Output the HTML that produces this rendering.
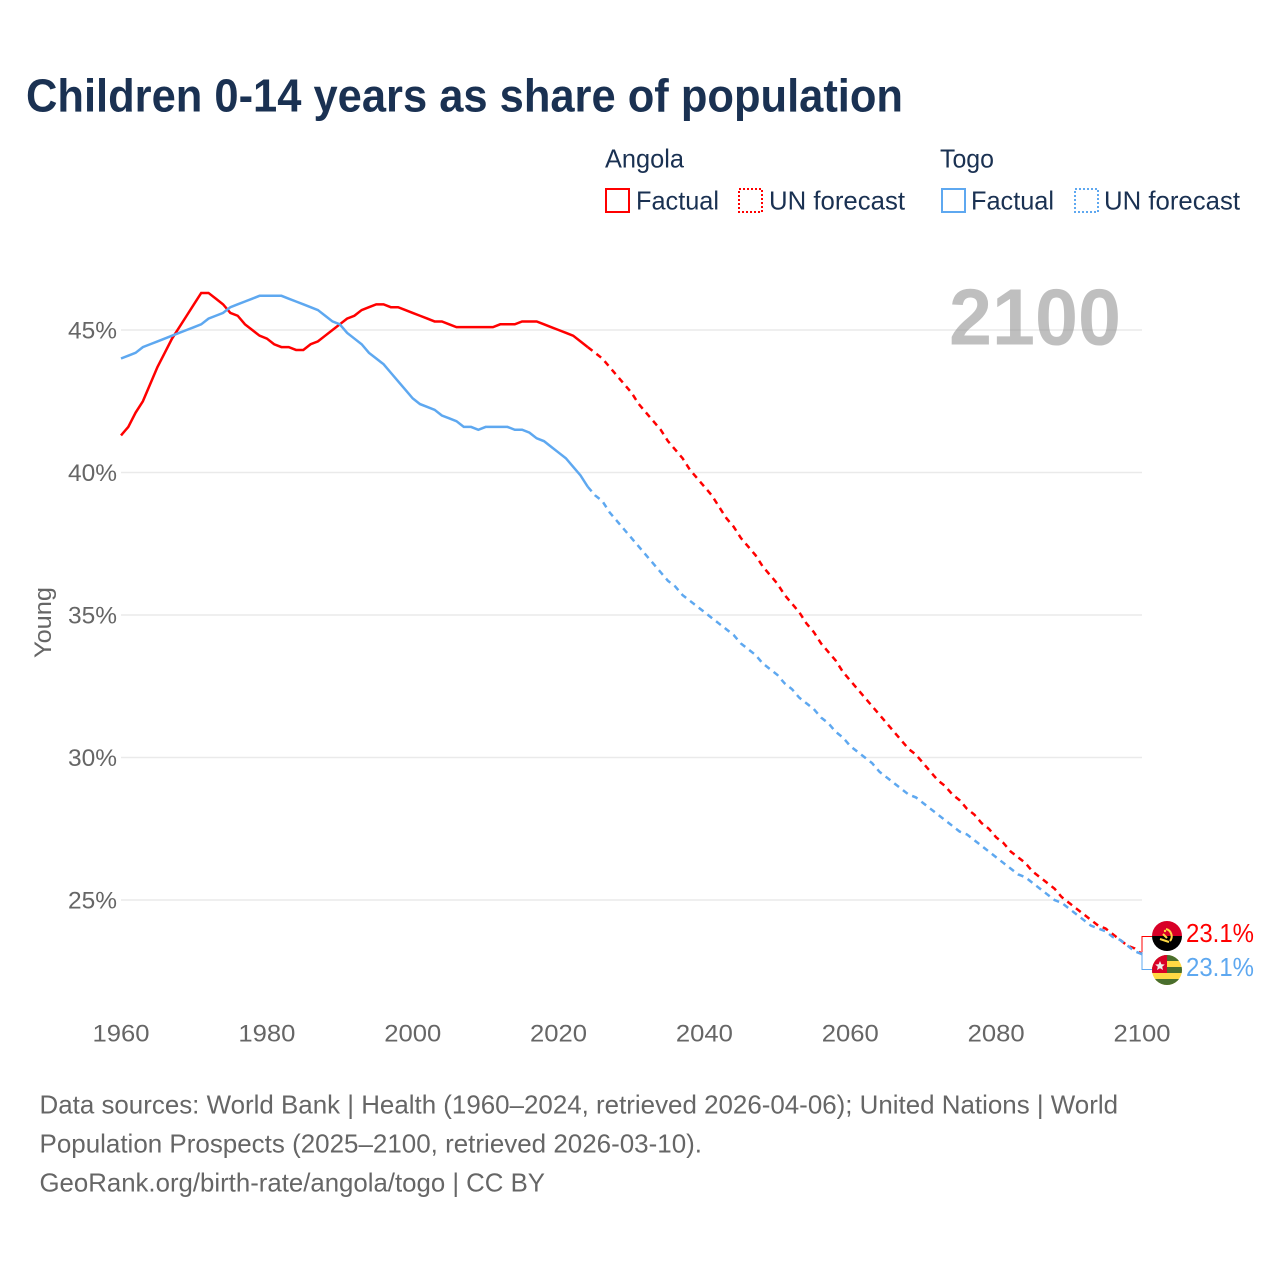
<!DOCTYPE html>
<html lang="en">
<head>
<meta charset="utf-8">
<title>Children 0-14 years as share of population</title>
<style>
html,body{margin:0;padding:0;background:#fff;width:1280px;height:1280px;overflow:hidden}
svg{display:block}
text{font-family:"Liberation Sans",sans-serif}
</style>
</head>
<body>
<svg id="chart" width="1280" height="1280" viewBox="0 0 1280 1280" xmlns="http://www.w3.org/2000/svg">
  <defs>
    <clipPath id="flag-clip-a"><circle cx="1167" cy="936" r="15"/></clipPath>
    <clipPath id="flag-clip-t"><circle cx="1167" cy="970" r="15"/></clipPath>
  </defs>

  <text x="26" y="111.500" font-size="46" font-weight="700" fill="#1a3152" textLength="877" lengthAdjust="spacingAndGlyphs">Children 0-14 years as share of population</text>

  <g fill="#1a3152" font-size="26">
    <text x="605" y="167.500" textLength="79" lengthAdjust="spacingAndGlyphs">Angola</text>
    <text x="940" y="167.500" textLength="54" lengthAdjust="spacingAndGlyphs">Togo</text>
    <rect x="606" y="189" width="23" height="23" fill="none" stroke="#ff0000" stroke-width="2"/>
    <text x="636" y="209.500" textLength="83" lengthAdjust="spacingAndGlyphs">Factual</text>
    <rect x="739" y="189" width="23" height="23" fill="none" stroke="#ff0000" stroke-width="2" stroke-dasharray="2 2"/>
    <text x="769" y="209.500" textLength="136" lengthAdjust="spacingAndGlyphs">UN forecast</text>
    <rect x="942" y="189" width="23" height="23" fill="none" stroke="#5ea8f0" stroke-width="2"/>
    <text x="971" y="209.500" textLength="83" lengthAdjust="spacingAndGlyphs">Factual</text>
    <rect x="1075" y="189" width="23" height="23" fill="none" stroke="#5ea8f0" stroke-width="2" stroke-dasharray="2 2"/>
    <text x="1104" y="209.500" textLength="136" lengthAdjust="spacingAndGlyphs">UN forecast</text>
  </g>

  <g id="grid"></g>
  <g id="y-ticks"></g>
  <g id="x-ticks"></g>

  <text transform="translate(51,622.5) rotate(-90)" text-anchor="middle" font-size="24" fill="#666" textLength="71" lengthAdjust="spacingAndGlyphs">Young</text>

  <text x="949" y="344.500" font-size="80" font-weight="700" fill="#808080" fill-opacity="0.5" textLength="172" lengthAdjust="spacingAndGlyphs">2100</text>

  <g id="series"></g>

  <path d="M1142 952V936.500H1152" fill="none" stroke="#ff0000" stroke-width="1"/>
  <path d="M1142 952V969.500H1152" fill="none" stroke="#5ea8f0" stroke-width="1"/>

  <g clip-path="url(#flag-clip-a)">
    <rect x="1152" y="921" width="30" height="15" fill="#d80027"/>
    <rect x="1152" y="936" width="30" height="15" fill="#000"/>
    <path d="M1166 929a7.500 7.500 0 0 1 4 12" fill="none" stroke="#ffda44" stroke-width="2"/>
    <path d="M1160 939l9 3" fill="none" stroke="#ffda44" stroke-width="2"/>
    <path d="M1163 934l4 4" fill="none" stroke="#ffda44" stroke-width="2"/>
    <circle cx="1165" cy="931" r="1.200" fill="#ffda44"/>
  </g>
  <g clip-path="url(#flag-clip-t)">
    <rect x="1152" y="955" width="30" height="30" fill="#ffda44"/>
    <rect x="1152" y="955" width="30" height="6" fill="#496e2d"/>
    <rect x="1152" y="967" width="30" height="6" fill="#496e2d"/>
    <rect x="1152" y="979" width="30" height="6" fill="#496e2d"/>
    <rect x="1152" y="955" width="15" height="18" fill="#d80027"/>
    <path d="M1160 961l1.400 3.200 3.400.3-2.600 2.200.8 3.300-3-1.800-3 1.800.8-3.300-2.600-2.200 3.400-.3z" fill="#eee"/>
  </g>

  <text x="1186" y="942" font-size="26" fill="#ff0000" textLength="68" lengthAdjust="spacingAndGlyphs">23.1%</text>
  <text x="1186" y="976" font-size="26" fill="#5ea8f0" textLength="68" lengthAdjust="spacingAndGlyphs">23.1%</text>

  <g font-size="26" fill="#666">
    <text x="39.500" y="1113.500" textLength="1078.500" lengthAdjust="spacingAndGlyphs">Data sources: World Bank | Health (1960–2024, retrieved 2026-04-06); United Nations | World</text>
    <text x="39.500" y="1152.500" textLength="662.500" lengthAdjust="spacingAndGlyphs">Population Prospects (2025–2100, retrieved 2026-03-10).</text>
    <text x="39.500" y="1191.500" textLength="505.500" lengthAdjust="spacingAndGlyphs">GeoRank.org/birth-rate/angola/togo | CC BY</text>
  </g>
</svg>

<script>
const factualStartYear = 1960;
const forecastStartYear = 2024;
const yTickValues = [45, 40, 35, 30, 25];
const xTickYears = [1960, 1980, 2000, 2020, 2040, 2060, 2080, 2100];
const angolaFactual = [41.3,41.6,42.1,42.5,43.1,43.7,44.2,44.7,45.1,45.5,45.9,46.3,46.3,46.1,45.9,45.6,45.5,45.2,45.0,44.8,44.7,44.5,44.4,44.4,44.3,44.3,44.5,44.6,44.8,45.0,45.2,45.4,45.5,45.7,45.8,45.9,45.9,45.8,45.8,45.7,45.6,45.5,45.4,45.3,45.3,45.2,45.1,45.1,45.1,45.1,45.1,45.1,45.2,45.2,45.2,45.3,45.3,45.3,45.2,45.1,45.0,44.9,44.8,44.6,44.4];
const togoFactual = [44.0,44.1,44.2,44.4,44.5,44.6,44.7,44.8,44.9,45.0,45.1,45.2,45.4,45.5,45.6,45.8,45.9,46.0,46.1,46.2,46.2,46.2,46.2,46.1,46.0,45.9,45.8,45.7,45.5,45.3,45.2,44.9,44.7,44.5,44.2,44.0,43.8,43.5,43.2,42.9,42.6,42.4,42.3,42.2,42.0,41.9,41.8,41.6,41.6,41.5,41.6,41.6,41.6,41.6,41.5,41.5,41.4,41.2,41.1,40.9,40.7,40.5,40.2,39.9,39.5];
const angolaForecast = [44.4,44.2,44.0,43.7,43.4,43.1,42.8,42.4,42.1,41.8,41.5,41.1,40.8,40.5,40.1,39.8,39.5,39.2,38.8,38.4,38.1,37.7,37.4,37.1,36.7,36.4,36.1,35.7,35.4,35.1,34.7,34.4,34.0,33.7,33.4,33.0,32.7,32.4,32.1,31.8,31.5,31.2,30.9,30.6,30.3,30.1,29.8,29.5,29.2,29.0,28.7,28.5,28.2,28.0,27.7,27.5,27.2,27.0,26.7,26.5,26.3,26.0,25.8,25.6,25.4,25.1,24.9,24.7,24.5,24.3,24.1,24.0,23.8,23.6,23.4,23.3,23.1];
const togoForecast = [39.5,39.2,39.0,38.6,38.3,38.0,37.7,37.4,37.1,36.8,36.5,36.2,36.0,35.7,35.5,35.3,35.1,34.9,34.7,34.5,34.3,34.0,33.8,33.6,33.3,33.1,32.9,32.6,32.4,32.1,31.9,31.7,31.4,31.2,30.9,30.7,30.4,30.2,30.0,29.8,29.5,29.3,29.1,28.9,28.7,28.6,28.4,28.2,28.0,27.8,27.6,27.4,27.3,27.1,26.9,26.7,26.5,26.3,26.1,25.9,25.8,25.6,25.4,25.2,25.0,24.9,24.7,24.5,24.3,24.1,24.0,23.9,23.7,23.6,23.4,23.2,23.1];

const NS = 'http://www.w3.org/2000/svg';
function xScale(year) { return 121 + (year - 1960) * (1021 / 140); }
function yScale(value) { return 330 + (45 - value) * 28.5; }
function linePath(values, startYear) {
  return values.map(function (v, i) {
    return (i ? 'L' : 'M') + xScale(startYear + i).toFixed(2) + ' ' + yScale(v).toFixed(2);
  }).join('');
}

const gridGroup = document.getElementById('grid');
const yGroup = document.getElementById('y-ticks');
yTickValues.forEach(function (v) {
  const line = document.createElementNS(NS, 'line');
  
  
  line.setAttribute('x1', 121);
  line.setAttribute('x2', 1142);
  line.setAttribute('y1', yScale(v));
  line.setAttribute('y2', yScale(v));
  line.setAttribute('stroke', '#eaeaea');
  line.setAttribute('stroke-width', '1.5');
  gridGroup.appendChild(line);

  const label = document.createElementNS(NS, 'text');
  
  
  label.setAttribute('x', 68);
  label.setAttribute('y', yScale(v) + 8.5);
  label.setAttribute('font-size', '24');
  label.setAttribute('fill', '#666');
  label.setAttribute('textLength', '49');
  label.setAttribute('lengthAdjust', 'spacingAndGlyphs');
  label.textContent = v + '%';
  yGroup.appendChild(label);
});

const xGroup = document.getElementById('x-ticks');
xTickYears.forEach(function (year) {
  const label = document.createElementNS(NS, 'text');
  
  
  label.setAttribute('x', xScale(year) - 28.5);
  label.setAttribute('y', 1041.5);
  label.setAttribute('font-size', '24');
  label.setAttribute('fill', '#666');
  label.setAttribute('textLength', '57');
  label.setAttribute('lengthAdjust', 'spacingAndGlyphs');
  label.textContent = String(year);
  xGroup.appendChild(label);
});

const seriesGroup = document.getElementById('series');

const angolaFactualLine = document.createElementNS(NS, 'path');


angolaFactualLine.setAttribute('d', linePath(angolaFactual, factualStartYear));
angolaFactualLine.setAttribute('fill', 'none');
angolaFactualLine.setAttribute('stroke', '#ff0000');
angolaFactualLine.setAttribute('stroke-width', '2.5');
seriesGroup.appendChild(angolaFactualLine);

const togoFactualLine = document.createElementNS(NS, 'path');


togoFactualLine.setAttribute('d', linePath(togoFactual, factualStartYear));
togoFactualLine.setAttribute('fill', 'none');
togoFactualLine.setAttribute('stroke', '#5ea8f0');
togoFactualLine.setAttribute('stroke-width', '2.5');
seriesGroup.appendChild(togoFactualLine);

const angolaForecastLine = document.createElementNS(NS, 'path');


angolaForecastLine.setAttribute('d', linePath(angolaForecast, forecastStartYear));
angolaForecastLine.setAttribute('fill', 'none');
angolaForecastLine.setAttribute('stroke', '#ff0000');
angolaForecastLine.setAttribute('stroke-width', '2.5');
angolaForecastLine.setAttribute('stroke-dasharray', '6 5');
seriesGroup.appendChild(angolaForecastLine);

const togoForecastLine = document.createElementNS(NS, 'path');


togoForecastLine.setAttribute('d', linePath(togoForecast, forecastStartYear));
togoForecastLine.setAttribute('fill', 'none');
togoForecastLine.setAttribute('stroke', '#5ea8f0');
togoForecastLine.setAttribute('stroke-width', '2.5');
togoForecastLine.setAttribute('stroke-dasharray', '6 5');
seriesGroup.appendChild(togoForecastLine);
</script>
</body>
</html>
